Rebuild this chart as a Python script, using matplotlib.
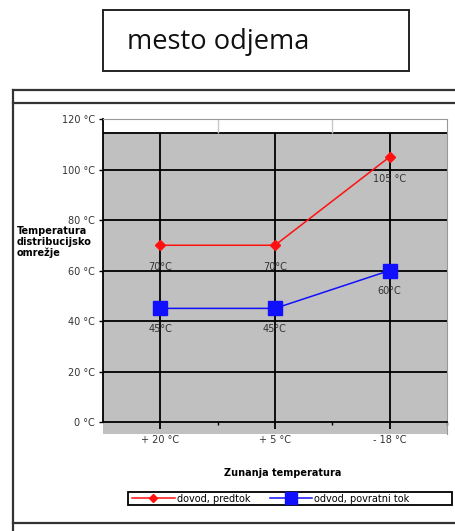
"""recreate the mesto odjema temperature chart"""
import matplotlib
matplotlib.use("Agg")
import matplotlib.pyplot as plt
from matplotlib.lines import Line2D
from matplotlib.patches import Rectangle

# data
categories = ["+ 20 °C", "+ 5 °C", "- 18 °C"]
supply = [70, 70, 105]
supply_labels = ["70°C", "70°C", "105 °C"]
returned = [45, 45, 60]
returned_labels = ["45°C", "45°C", "60°C"]
y_ticks = [0, 20, 40, 60, 80, 100, 120]
y_tick_labels = [f"{v} °C" for v in y_ticks]

W, H = 456, 531
plt.rcParams["font.family"] = ["DejaVu Sans"]
small = 7

fig = plt.figure(figsize=(W / 100, H / 100), dpi=100)


def fx(px):
    return px / W


def fy(py):
    return 1 - py / H


# frame around the chart and title box
frame_kw = dict(color="#333333", lw=1.6, transform=fig.transFigure)
fig.add_artist(Line2D([fx(13), fx(13)], [fy(90), 0], **frame_kw))
fig.add_artist(Line2D([fx(13), 1], [fy(90), fy(90)], **frame_kw))
fig.add_artist(Line2D([fx(13), 1], [fy(103), fy(103)], **frame_kw))
fig.add_artist(Line2D([fx(13), 1], [fy(523), fy(523)], **frame_kw))
fig.add_artist(Rectangle((fx(103), fy(71)), fx(409 - 103), fy(10) - fy(71),
                         fill=False, ec="#222222", lw=1.4, transform=fig.transFigure))
title = fig.text(fx(127), fy(42), "mesto odjema", fontsize=15, family="Open Sans",
                 va="center", ha="left", color="#111111")
# scale the title so it spans the same width as in the picture
tw = title.get_window_extent(renderer=fig.canvas.get_renderer()).width
title.set_fontsize(15 * 182 / tw)

# plot area
ybot, ytop, gray_top = -4.75, 120, 114.3
ax = fig.add_axes([fx(103), fy(434), fx(447 - 103), fy(119) - fy(434)])
ax.set_facecolor("white")
ax.set_xlim(-0.5, 2.5)
ax.set_ylim(ybot, ytop)
x = list(range(len(categories)))

ax.axhspan(ybot, gray_top, color="#c0c0c0", zorder=0)
ax.axhline(gray_top, color="black", lw=1.3, zorder=1)
for v in y_ticks[1:-1]:
    ax.axhline(v, color="black", lw=1.3, zorder=1)
ax.vlines(x, 0, gray_top, color="black", lw=1.3, zorder=1)
ax.vlines([0.5, 1.5], gray_top, ytop, color="#c8c8c8", lw=1.0, zorder=1)

for side in ["top", "right"]:
    ax.spines[side].set_color("#999999")
    ax.spines[side].set_linewidth(0.8)
ax.spines["left"].set_bounds(0, ytop)
ax.spines["left"].set_linewidth(1.3)
ax.spines["bottom"].set_position(("data", 0))
ax.spines["bottom"].set_linewidth(1.3)

ax.set_yticks(y_ticks)
ax.set_yticklabels(y_tick_labels, fontsize=small, color="#333333")
ax.set_xticks(x)
ax.set_xticklabels(categories, fontsize=small, color="#333333")
ax.set_xticks([0.5, 1.5, 2.5], minor=True)
ax.tick_params(axis="y", length=3, width=1, pad=3)
ax.tick_params(axis="x", which="major", length=5, width=1.3, pad=4)
ax.tick_params(axis="x", which="minor", length=2, width=1)

# series
l1, = ax.plot(x, supply, color="#ff1010", lw=1.1, marker="D", ms=5,
              label="dovod, predtok", zorder=3, clip_on=False)
l2, = ax.plot(x, returned, color="#1010ff", lw=1.1, marker="s", ms=10,
              label="odvod, povratni tok", zorder=3, clip_on=False)
for xi, v, t in zip(x, supply, supply_labels):
    ax.annotate(t, (xi, v), xytext=(0, -16), textcoords="offset points",
                ha="center", va="center", fontsize=small, color="#333333")
for xi, v, t in zip(x, returned, returned_labels):
    ax.annotate(t, (xi, v), xytext=(0, -15), textcoords="offset points",
                ha="center", va="center", fontsize=small, color="#333333")

fig.text(fx(17), fy(242), "Temperatura\ndistribucijsko\nomrežje", fontsize=small,
         fontweight="bold", ha="left", va="center", linespacing=1.1)
fig.text(fx(283), fy(473), "Zunanja temperatura", fontsize=small,
         fontweight="bold", ha="center", va="center")

# legend: box drawn separately, entries placed inside it
fig.add_artist(Rectangle((fx(128), fy(505)), fx(452 - 128), fy(492) - fy(505),
                         fill=False, ec="black", lw=1.3, transform=fig.transFigure))
fig.legend(handles=[l1, l2], loc="center left", ncol=2,
           bbox_to_anchor=(fx(132), fy(498.5)), fontsize=small, frameon=False,
           handlelength=4.4, borderpad=0, borderaxespad=0, handletextpad=0.2,
           columnspacing=2.0, markerscale=0.9)

fig.savefig("out.png", dpi=100)
